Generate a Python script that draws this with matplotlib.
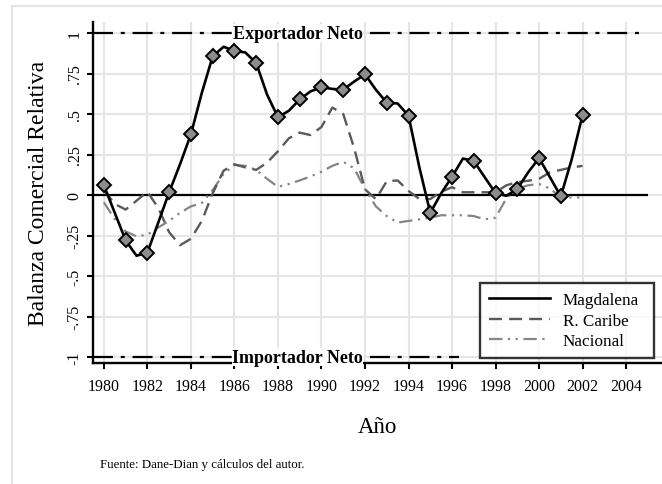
import matplotlib
matplotlib.use("Agg")
import matplotlib.pyplot as plt
from matplotlib.lines import Line2D
import numpy as np

# ---------------- data ----------------
years = list(range(1980, 2003))
# annual values
magdalena = [0.06, -0.28, -0.355, 0.017, 0.375, 0.856, 0.89, 0.815, 0.48, 0.59, 0.665, 0.65,
             0.745, 0.57, 0.49, -0.11, 0.113, 0.21, 0.012, 0.037, 0.228, -0.008, 0.494]
caribe = [0.03, -0.09, 0.02, -0.23, -0.27, 0.01, 0.19, 0.155, 0.27, 0.385, 0.42, 0.50,
          0.035, 0.085, 0.025, -0.025, 0.048, 0.017, 0.017, 0.08, 0.10, 0.155, 0.18]
nacional = [-0.045, -0.225, -0.245, -0.16, -0.07, 0.03, 0.185, 0.155, 0.05, 0.09, 0.144, 0.205,
            0.037, -0.13, -0.16, -0.14, -0.125, -0.13, -0.14, 0.04, 0.068, -0.015, -0.015]
# mid-year readings of the smoothed curves (year + 0.5)
magdalena_mid = [-0.11, -0.375, -0.17, 0.19, 0.63, 0.915, 0.88, 0.62, 0.52, 0.64, 0.655,
                 0.70, 0.65, 0.565, 0.17, 0.01, 0.225, 0.11, -0.005, 0.14, 0.11, 0.22]
caribe_mid = [-0.055, -0.035, -0.08, -0.31, -0.16, 0.15, 0.17, 0.20, 0.35, 0.37, 0.54,
              0.29, -0.025, 0.09, -0.025, 0.02, 0.017, 0.017, 0.06, 0.088, 0.14, 0.17]
nacional_mid = [-0.15, -0.255, -0.20, -0.11, -0.05, 0.13, 0.18, 0.10, 0.068, 0.115, 0.18,
                0.165, -0.07, -0.17, -0.15, -0.125, -0.125, -0.15, -0.02, 0.06, 0.04, -0.015]

series_labels = ["Magdalena", "R. Caribe", "Nacional"]
x_ticks = list(range(1980, 2005, 2))
y_ticks = [-1, -0.75, -0.5, -0.25, 0, 0.25, 0.5, 0.75, 1]
y_ticklabels = ["-1", "-.75", "-.5", "-.25", "0", ".25", ".5", ".75", "1"]
ref_labels = ["Exportador Neto", "Importador Neto"]


def interleave(annual, mid):
    xs, ys = [], []
    for i, y in enumerate(years):
        xs.append(y)
        ys.append(annual[i])
        if i < len(mid):
            xs.append(y + 0.5)
            ys.append(mid[i])
    return xs, ys


SERIF = "Liberation Serif"
W, H = 662, 485
fig = plt.figure(figsize=(W / 100, H / 100), dpi=100)
fig.patch.set_facecolor("white")

# outer graph-region border (light gray)
fig.add_artist(Line2D([12 / W, 12 / W], [0, 1 - 7 / H], transform=fig.transFigure,
                      color="#e4e4e4", lw=1.6))
fig.add_artist(Line2D([12 / W, 1], [1 - 7 / H, 1 - 7 / H], transform=fig.transFigure,
                      color="#e4e4e4", lw=1.6))

ax_l, ax_r, ax_t, ax_b = 93, 662, 23, 364
ax = fig.add_axes([ax_l / W, 1 - ax_b / H, (ax_r - ax_l) / W, (ax_b - ax_t) / H])
ax.set_xlim(1979.5, 2005.65)
ax.set_ylim(-1.037, 1.068)

# grid
for xt in x_ticks:
    ax.axvline(xt, color="#e6e6e6", lw=1.5, zorder=0)
for yt in y_ticks:
    ax.axhline(yt, color="#e6e6e6", lw=1.5, zorder=0)

# reference lines
ax.hlines(0, 1979.5, 2005.0, color="black", lw=1.6, zorder=2)
ax.plot([1979.5, 2004.8], [1, 1], color="black", lw=1.6, dashes=(9, 3.5, 1.8, 3.5), zorder=2)
ax.plot([1979.5, 1996.3], [-1, -1], color="black", lw=1.6, dashes=(9, 3.5, 1.8, 3.5), zorder=2)
ax.text(1988.9, 1.0, ref_labels[0], family=SERIF, fontweight="bold", fontsize=13,
        ha="center", va="center", zorder=3,
        bbox=dict(facecolor="white", edgecolor="none", pad=0.2))
ax.text(1988.9, -1.0, ref_labels[1], family=SERIF, fontweight="bold", fontsize=13,
        ha="center", va="center", zorder=3,
        bbox=dict(facecolor="white", edgecolor="none", pad=0.2))

# series
cx, cy = interleave(caribe, caribe_mid)
nx, ny = interleave(nacional, nacional_mid)
mx, my = interleave(magdalena, magdalena_mid)
l_nac, = ax.plot(nx, ny, color="#858585", lw=1.6, dashes=(6, 2.5, 1, 2.5, 1, 2.5), zorder=4)
l_car, = ax.plot(cx, cy, color="#5a5a5a", lw=1.7, dashes=(5.5, 3), zorder=4)
l_mag, = ax.plot(mx, my, color="black", lw=1.9, zorder=5)
ax.plot(years, magdalena, linestyle="none", marker="D", markersize=7,
        markerfacecolor="#8c8c8c", markeredgecolor="black", markeredgewidth=1.4, zorder=6)

# axes styling
for s in ["top", "right"]:
    ax.spines[s].set_visible(False)
for s in ["left", "bottom"]:
    ax.spines[s].set_linewidth(1.7)
    ax.spines[s].set_color("black")
ax.set_xticks(x_ticks)
ax.set_xticklabels([str(v) for v in x_ticks], family=SERIF, fontsize=11.5)
ax.set_yticks(y_ticks)
ax.set_yticklabels(y_ticklabels, family=SERIF, fontsize=11.5, rotation=90, va="center")
ax.tick_params(axis="x", direction="out", length=4.5, width=1.5, color="black", pad=6)
ax.tick_params(axis="y", direction="out", length=4.5, width=1.5, color="black", pad=3)
ax.set_xlabel("Año", family=SERIF, fontsize=16.5, labelpad=16)
ax.set_ylabel("Balanza Comercial Relativa", family=SERIF, fontsize=17, labelpad=13)

# legend box: x 480..654 px, y 282..359 px
lx0 = (480 - ax_l) / (ax_r - ax_l)
lx1 = (654 - ax_l) / (ax_r - ax_l)
ly0 = (ax_b - 359) / (ax_b - ax_t)
leg = ax.legend([l_mag, l_car, l_nac], series_labels, loc="lower left",
                bbox_to_anchor=(lx0, ly0, lx1 - lx0, 0.2), mode="expand",
                prop={"family": SERIF, "size": 12.3},
                frameon=True, fancybox=False, handlelength=3.6, handletextpad=0.75,
                labelspacing=0.28, borderpad=0.5, borderaxespad=0)
leg.get_frame().set_edgecolor("black")
leg.get_frame().set_linewidth(1.7)
leg.set_zorder(10)

fig.text(100 / W, 1 - 465 / H, "Fuente: Dane-Dian y cálculos del autor.",
         family=SERIF, fontsize=9.3, ha="left", va="center")

fig.savefig("out.png", dpi=100)
